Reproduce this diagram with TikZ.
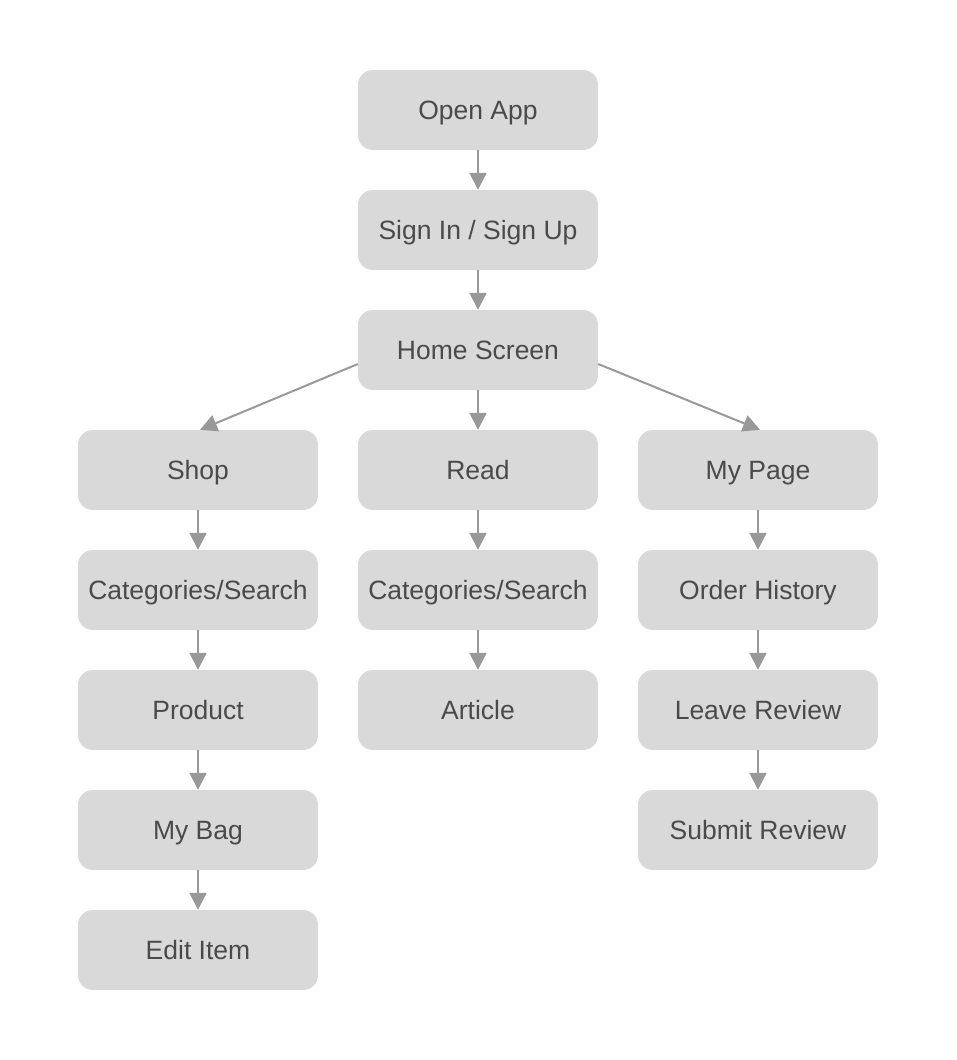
\documentclass[tikz,border=0pt]{standalone}
\usepackage{fontspec}
\setmainfont{Liberation Sans}
\usetikzlibrary{arrows.meta,calc}
\definecolor{boxgray}{HTML}{D9D9D9}
\definecolor{textgray}{HTML}{4A4A4A}
\definecolor{arrowgray}{HTML}{999999}
\tikzset{
  flowbox/.style={rectangle, rounded corners=15pt, fill=boxgray, draw=none,
    minimum width=240pt, minimum height=80pt, inner sep=0pt, text=textgray,
    text height=19pt, text depth=0pt,
    font=\fontsize{26.5}{30}\selectfont},
  flowarrow/.style={draw=arrowgray, line width=2pt,
    -{Triangle[length=17pt,width=17pt]}}
}
\begin{document}
\begin{tikzpicture}
\fill[white] (0pt,0pt) rectangle (956pt,-1060pt);
\useasboundingbox (0pt,0pt) rectangle (956pt,-1060pt);
% middle column
\node[flowbox] (open) at (478pt,-110pt) {Open App};
\node[flowbox] (sign) at (478pt,-230pt) {Sign In / Sign Up};
\node[flowbox] (home) at (478pt,-350pt) {Home Screen};
\node[flowbox] (read) at (478pt,-470pt) {Read};
\node[flowbox] (rcat) at (478pt,-590pt) {Categories/Search};
\node[flowbox] (article) at (478pt,-710pt) {Article};
% left column
\node[flowbox] (shop) at (198pt,-470pt) {Shop};
\node[flowbox] (scat) at (198pt,-590pt) {Categories/Search};
\node[flowbox] (product) at (198pt,-710pt) {Product};
\node[flowbox] (bag) at (198pt,-830pt) {My Bag};
\node[flowbox] (edit) at (198pt,-950pt) {Edit Item};
% right column
\node[flowbox] (mypage) at (758pt,-470pt) {My Page};
\node[flowbox] (order) at (758pt,-590pt) {Order History};
\node[flowbox] (leave) at (758pt,-710pt) {Leave Review};
\node[flowbox] (submit) at (758pt,-830pt) {Submit Review};
% connectors
\draw[flowarrow] (open.south) -- (sign.north);
\draw[flowarrow] (sign.south) -- (home.north);
\draw[flowarrow] (home.south) -- (read.north);
\draw[flowarrow] (read.south) -- (rcat.north);
\draw[flowarrow] (rcat.south) -- (article.north);
\draw[flowarrow] ([yshift=-14pt]home.west) -- ([xshift=2pt]shop.north);
\draw[flowarrow] ([yshift=-14pt]home.east) -- ([xshift=2pt]mypage.north);
\draw[flowarrow] (shop.south) -- (scat.north);
\draw[flowarrow] (scat.south) -- (product.north);
\draw[flowarrow] (product.south) -- (bag.north);
\draw[flowarrow] (bag.south) -- (edit.north);
\draw[flowarrow] (mypage.south) -- (order.north);
\draw[flowarrow] (order.south) -- (leave.north);
\draw[flowarrow] (leave.south) -- (submit.north);
\end{tikzpicture}
\end{document}
